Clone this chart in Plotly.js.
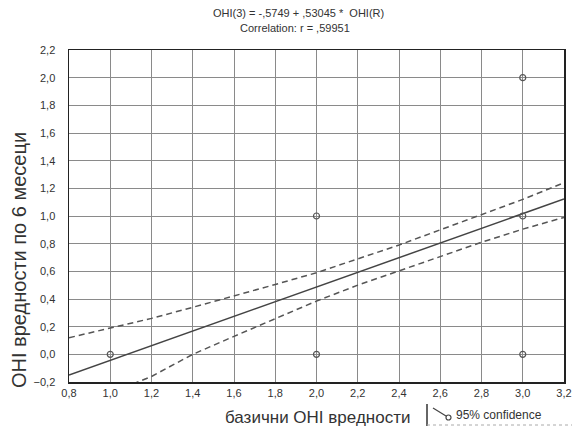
<!DOCTYPE html>
<html>
<head>
<meta charset="utf-8">
<script src="https://cdn.plot.ly/plotly-3.0.1.min.js"></script>
<style>html,body{margin:0;padding:0;background:#fff;}#chart{width:572px;height:426px;}</style>
</head>
<body>
<div id="chart"></div>
<script>
// observed points (базични OHI, OHI по 6 месеци)
const obsX = [1.0, 2.0, 2.0, 3.0, 3.0, 3.0];
const obsY = [0.0, 1.0, 0.0, 2.0, 1.0, 0.0];
// regression line OHI(3) = -0.5749 + 0.53045*OHI(R), endpoints at axis limits
const fitX = [0.8, 3.2];
const fitY = [-0.150, 1.123];
// 95% confidence bands
const bandX = [0.8, 1.0, 1.2, 1.4, 1.6, 1.8, 2.0, 2.2, 2.4, 2.6, 2.8, 3.0, 3.2];
const upperY = [0.12, 0.19, 0.26, 0.34, 0.42, 0.505, 0.59, 0.69, 0.79, 0.90, 1.01, 1.12, 1.24];
const lowerY = [-0.42, -0.28, -0.16, 0.0, 0.13, 0.255, 0.385, 0.50, 0.605, 0.71, 0.81, 0.905, 0.99];
const xTicks = [0.8, 1.0, 1.2, 1.4, 1.6, 1.8, 2.0, 2.2, 2.4, 2.6, 2.8, 3.0, 3.2];
const yTicks = [-0.2, 0.0, 0.2, 0.4, 0.6, 0.8, 1.0, 1.2, 1.4, 1.6, 1.8, 2.0, 2.2];
const titleLines = ['OHI(3) = -,5749 + ,53045 *  OHI(R)', 'Correlation: r = ,59951'];
const legendLabel = '95% confidence';

const W = 572, H = 426;
const M = {l: 69, r: 8, t: 50, b: 44};
const pw = W - M.l - M.r, ph = H - M.t - M.b;
// pixel -> paper helpers for decorations
const px = v => (v - M.l) / pw;
const py = v => (H - M.b - v) / ph;

const lineCol = '#444';
const traces = [
  {x: bandX, y: upperY, mode: 'lines', line: {color: '#555', width: 1.5, dash: '6px,4px'}, hoverinfo: 'skip'},
  {x: bandX, y: lowerY, mode: 'lines', line: {color: '#555', width: 1.5, dash: '6px,4px'}, hoverinfo: 'skip'},
  {x: fitX, y: fitY, mode: 'lines', line: {color: lineCol, width: 1.5}},
  {x: obsX, y: obsY, mode: 'markers', marker: {symbol: 'circle-open', size: 6, color: '#555', line: {width: 1.2}}, cliponaxis: false}
];

const layout = {
  width: W, height: H,
  margin: M,
  showlegend: false,
  paper_bgcolor: '#ffffff', plot_bgcolor: '#ffffff',
  separators: ', ',
  font: {family: 'Liberation Sans, Arial, sans-serif', color: '#333', size: 11},
  xaxis: {range: [0.8, 3.2], tickvals: xTicks, tickformat: '.1f', showgrid: true, gridcolor: '#8a8a8a', gridwidth: 1,
    showline: true, linecolor: '#222', linewidth: 1.5, mirror: true, ticks: '', zeroline: false,
    ticklabelstandoff: 0,
    tickfont: {size: 11, color: '#333'}},
  yaxis: {range: [-0.2, 2.2], tickvals: yTicks, tickformat: '.1f', showgrid: true, gridcolor: '#8a8a8a', gridwidth: 1,
    showline: true, linecolor: '#222', linewidth: 1.5, mirror: true, ticks: '', zeroline: false,
    ticklabelstandoff: 10,
    tickfont: {size: 11, color: '#333'}},
  annotations: [
    {text: titleLines[0], xref: 'paper', yref: 'paper', x: px(298), y: py(13), xanchor: 'center', yanchor: 'middle', showarrow: false, font: {size: 11, color: '#333'}},
    {text: titleLines[1], xref: 'paper', yref: 'paper', x: px(295), y: py(28), xanchor: 'center', yanchor: 'middle', showarrow: false, font: {size: 11, color: '#333'}},
    {text: 'OHI вредности по 6 месеци', textangle: -90, xref: 'paper', yref: 'paper', x: px(19), y: py(260), xanchor: 'center', yanchor: 'middle', showarrow: false, font: {size: 20, color: '#333'}},
    {text: 'базични OHI вредности', xref: 'paper', yref: 'paper', x: px(317), y: py(417), xanchor: 'center', yanchor: 'middle', showarrow: false, font: {size: 17, color: '#333'}},
    {text: legendLabel, xref: 'paper', yref: 'paper', x: px(454), y: py(415), xanchor: 'left', yanchor: 'middle', showarrow: false, font: {size: 12, color: '#333'}}
  ],
  shapes: [
    {type: 'line', xref: 'paper', yref: 'paper', x0: px(427), x1: px(427), y0: py(404), y1: py(426), line: {color: '#333', width: 1.5}},
    {type: 'line', xref: 'paper', yref: 'paper', x0: px(427), x1: px(575), y0: py(425), y1: py(425), line: {color: '#aaa', width: 1, dash: 'dot'}},
    {type: 'line', xref: 'paper', yref: 'paper', x0: px(433), x1: px(446), y0: py(408), y1: py(416), line: {color: '#444', width: 1.3}},
    {type: 'circle', xref: 'paper', yref: 'paper', x0: px(446), x1: px(451), y0: py(415), y1: py(420), line: {color: '#444', width: 1.2}, fillcolor: '#fff'}
  ]
};

Plotly.newPlot('chart', traces, layout, {displayModeBar: false, staticPlot: true});
</script>
</body>
</html>
